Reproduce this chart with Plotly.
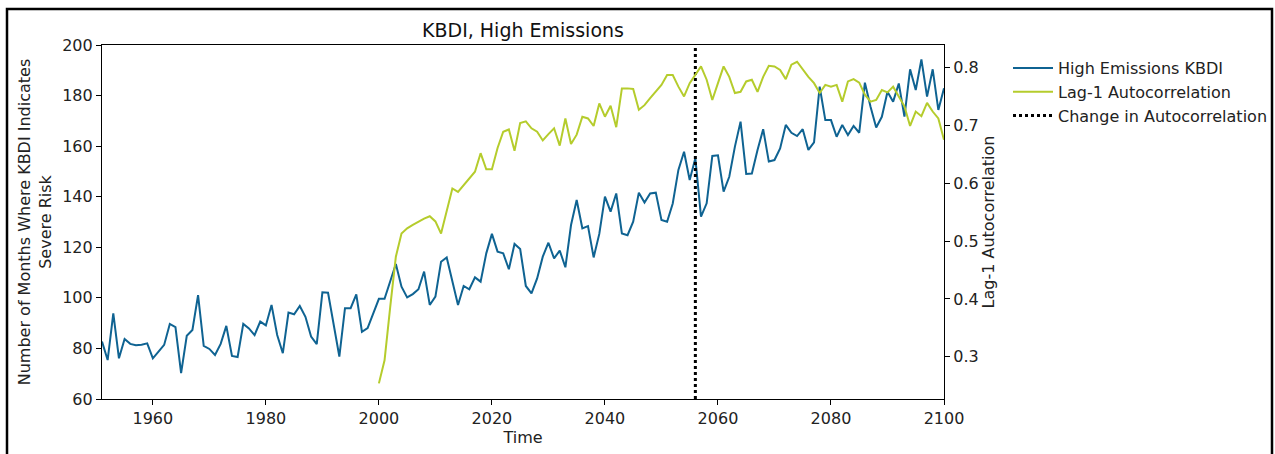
import plotly.graph_objects as go

# Annual count of months with severe KBDI risk (high emissions scenario)
kbdi_years = list(range(1951, 2101))
kbdi_months = [
    82.7, 75.4, 93.9, 76.1, 83.7, 81.8, 81.3, 81.5, 82.0, 76.1,
    78.7, 81.4, 89.7, 88.4, 70.2, 85.0, 87.3, 101.1, 81.0, 79.8,
    77.4, 81.8, 88.9, 77.0, 76.6, 89.7, 87.9, 85.3, 90.6, 89.1,
    97.2, 85.3, 78.1, 94.2, 93.5, 96.8, 92.5, 84.7, 81.7, 102.2,
    102.0, 89.9, 76.8, 95.9, 95.9, 101.4, 86.6, 88.0, 93.9, 99.6,
    99.6, 106.4, 113.4, 104.4, 100.2, 101.5, 103.4, 110.4, 97.2, 100.5,
    114.3, 116.0, 107.0, 97.2, 104.7, 103.4, 108.1, 106.4, 117.6, 125.3,
    118.3, 117.6, 111.3, 121.3, 119.3, 104.7, 101.8, 107.7, 116.3, 121.8,
    115.6, 118.7, 112.1, 128.8, 138.7, 127.5, 128.4, 116.0, 125.3, 140.0,
    134.1, 141.3, 125.5, 124.8, 130.1, 141.6, 137.7, 141.3, 141.6, 130.8,
    130.1, 137.3, 150.6, 157.8, 146.6, 155.2, 132.1, 137.4, 156.1, 156.4,
    142.0, 147.9, 159.8, 169.7, 149.0, 149.2, 158.5, 166.7, 153.9, 154.5,
    159.1, 168.4, 165.3, 164.0, 166.7, 158.5, 161.5, 183.5, 170.3, 170.3,
    163.7, 168.4, 164.4, 168.0, 165.3, 185.1, 175.6, 167.4, 171.6, 181.5,
    177.6, 184.8, 171.7, 190.4, 182.2, 194.3, 179.6, 190.4, 174.3, 182.9,
]

# Rolling lag-1 autocorrelation of the KBDI series
ac_years = list(range(2000, 2101))
lag1_ac = [
    0.254, 0.294, 0.386, 0.473, 0.513, 0.522, 0.528, 0.534, 0.539, 0.543,
    0.534, 0.513, 0.554, 0.591, 0.585, 0.597, 0.607, 0.620, 0.652, 0.624,
    0.624, 0.661, 0.689, 0.693, 0.656, 0.704, 0.707, 0.695, 0.689, 0.674,
    0.685, 0.695, 0.665, 0.712, 0.668, 0.684, 0.715, 0.712, 0.699, 0.738,
    0.715, 0.734, 0.697, 0.764, 0.764, 0.763, 0.727, 0.735, 0.747, 0.758,
    0.770, 0.787, 0.787, 0.767, 0.750, 0.773, 0.787, 0.802, 0.779, 0.744,
    0.773, 0.802, 0.784, 0.756, 0.758, 0.776, 0.779, 0.758, 0.784, 0.803,
    0.802, 0.796, 0.780, 0.805, 0.810, 0.796, 0.784, 0.773, 0.756, 0.770,
    0.767, 0.770, 0.741, 0.776, 0.780, 0.774, 0.753, 0.741, 0.744, 0.761,
    0.757, 0.767, 0.750, 0.733, 0.699, 0.724, 0.716, 0.739, 0.724, 0.712,
    0.675,
]

change_year = 2056

x_ticks = [1960, 1980, 2000, 2020, 2040, 2060, 2080, 2100]
left_ticks = [60, 80, 100, 120, 140, 160, 180, 200]
right_ticks = [0.3, 0.4, 0.5, 0.6, 0.7, 0.8]

BLUE = "#0f6392"
GREEN = "#b5cc2c"
FONT = "DejaVu Sans"
TXT = 16

fig = go.Figure()

fig.add_trace(go.Scatter(
    x=kbdi_years, y=kbdi_months, mode="lines", name="High Emissions KBDI",
    line=dict(color=BLUE, width=2), yaxis="y",
))
fig.add_trace(go.Scatter(
    x=ac_years, y=lag1_ac, mode="lines", name="Lag-1 Autocorrelation",
    line=dict(color=GREEN, width=2), yaxis="y2",
))
fig.add_trace(go.Scatter(
    x=[change_year, change_year], y=[left_ticks[0], left_ticks[-1]],
    mode="lines", name="Change in Autocorrelation",
    line=dict(color="black", width=3, dash="dot"), yaxis="y",
))

axis_common = dict(
    showgrid=False, zeroline=False, showline=True, linecolor="black",
    linewidth=1.2, ticks="outside", ticklen=5, tickwidth=1.2, automargin=False,
    tickcolor="black", tickfont=dict(family=FONT, size=TXT, color="#222"),
)

fig.update_layout(
    width=1275, height=454,
    margin=dict(l=102, r=331, t=45, b=55, autoexpand=False),
    paper_bgcolor="white", plot_bgcolor="white",
    font=dict(family=FONT, size=TXT, color="#222"),
    title=dict(text="KBDI, High Emissions", x=(102 + 944) / 2 / 1275,
               xanchor="center", y=1 - 30 / 454, yanchor="middle",
               font=dict(family=FONT, size=19, color="#111")),
    xaxis=dict(range=[1951, 2100], tickvals=x_ticks, mirror=True,
               title=dict(text="Time", font=dict(family=FONT, size=TXT), standoff=4),
               **axis_common),
    yaxis=dict(range=[60, 200], tickvals=left_ticks, mirror=True,
               title=dict(text="Number of Months Where KBDI Indicates<br>Severe Risk",
                          font=dict(family=FONT, size=TXT), standoff=6),
               **axis_common),
    yaxis2=dict(range=[0.227, 0.839], tickvals=right_ticks, overlaying="y",
                side="right", anchor="x",
                title=dict(text="Lag-1 Autocorrelation",
                           font=dict(family=FONT, size=TXT), standoff=4),
                **axis_common),
    legend=dict(x=(1008 - 102) / 842, y=(399 - 51) / 354, xanchor="left", yanchor="top",
                bgcolor="rgba(0,0,0,0)", font=dict(family=FONT, size=TXT, color="#222"),
                itemwidth=40),
    showlegend=True,
)

# Outer frame around the whole figure
fig.add_shape(type="rect", xref="paper", yref="paper",
              x0=(7 - 102) / 842, x1=(1272 - 102) / 842,
              y0=(399 - 470) / 354, y1=(399 - 9) / 354,
              line=dict(color="black", width=2.5), layer="above")

fig.write_html("out.html")
